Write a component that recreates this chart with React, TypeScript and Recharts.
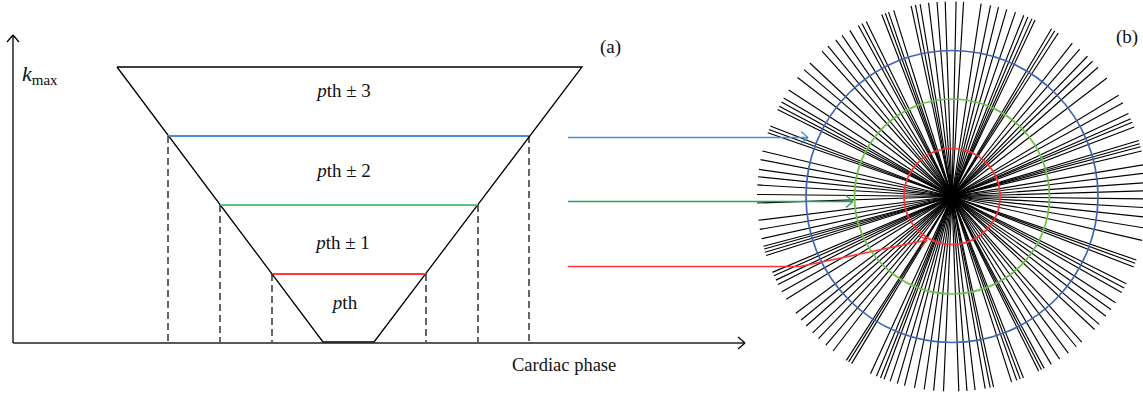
import React from 'react'
import { ComposedChart, Line, XAxis, YAxis, ReferenceLine, ReferenceDot } from 'recharts'

const WIDTH = 1143
const HEIGHT = 393
const FONT = '"Liberation Serif", "DejaVu Serif", serif'

// (a) funnel boundaries, bottom (pth) to top (kmax)
const levelY = [342, 274, 205, 136, 67]
const levelLeft = [323, 272, 220, 168, 117]
const levelRight = [374, 426, 478, 529, 582]
const levelColors = ['#000000', '#ff3b3b', '#62c17a', '#4e8ccf', '#000000']

const bandLabels = ['th', 'th \u00b1 1', 'th \u00b1 2', 'th \u00b1 3']
const bandLabelX = [345, 343, 344, 344]
const bandLabelY = [309, 249, 177, 97]

// axes of (a)
const axisOrigin = { x: 13, y: 343 }
const yAxisTop = 35
const xAxisEnd = 745

// (b) radial sampling
const starCenter = { x: 952, y: 196.5 }
const ringRadius = [48, 97.5, 146]
const ringColors = ['#ff3030', '#6dbf4b', '#4165b5']
const spokeLength = 195
// spoke directions, degrees counter-clockwise from east
const spokeAngles = [
  1.7, 4.1, 6.9, 9.4, 13.5, 14.8, 15.7, 16.7, 20.9, 22.4, 23.5, 25.2, 28.7, 31.3,
  37.4, 41.5, 43.9, 46.0, 49.1, 51.9, 57.0, 58.2, 59.3, 64.8, 65.8, 67.1, 68.4,
  71.0, 73.7, 76.2, 78.6, 81.4, 86.6, 88.8,
  92.0, 94.4, 96.9, 99.4, 100.8, 102.1, 107.4, 109.0, 110.0, 111.1, 116.1, 117.5,
  118.7, 121.6, 124.3, 126.6, 129.5, 131.8, 136.8, 139.4, 142.4, 146.9, 149.7,
  151.0, 152.4, 153.5, 158.8, 159.9, 160.9, 166.5, 169.1, 172.0, 174.2, 176.6, 179.4,
  181.9, 187.0, 189.7, 192.5, 194.8, 195.6, 196.6, 197.6, 202.9, 204.0, 205.4,
  206.8, 209.2, 211.8, 216.8, 219.3, 221.6, 224.4, 226.8, 229.7, 232.4, 237.2,
  238.0, 239.0, 245.3, 247.2, 248.5, 249.6, 251.5, 253.7, 255.9, 258.9, 261.8,
  264.6, 267.5,
  272.0, 274.4, 276.8, 279.8, 281.3, 282.3, 287.8, 289.4, 290.5, 291.5, 296.4,
  297.3, 298.2, 300.6, 303.5, 306.6, 309.6, 311.7, 317.0, 319.0, 322.1, 324.6,
  327.0, 330.5, 332.0, 333.4, 338.8, 340.0, 341.0, 347.0, 350.7, 353.9, 356.7, 359.3,
]

// arrows linking boundaries to rings (red, green, blue)
const arrowColors = ['#ff3535', '#1fa84f', '#4a8fd0']
const arrowPaths = [
  [{ x: 568, y: 266.5 }, { x: 800, y: 266.5 }, { x: 927, y: 240 }],
  [{ x: 568, y: 201.5 }, { x: 853, y: 201.5 }],
  [{ x: 568, y: 137.5 }, { x: 808, y: 137.5 }],
]

type Pt = { x: number; y: number }

const funnel = [
  { x: levelLeft[4], y: levelY[4] },
  { x: levelLeft[0], y: levelY[0] },
  { x: levelRight[0], y: levelY[0] },
  { x: levelRight[4], y: levelY[4] },
  { x: levelLeft[4], y: levelY[4] },
]

function seg(key: string, a: Pt, b: Pt, stroke: string, width = 1.3, dash?: string) {
  return (
    <ReferenceLine
      key={key}
      segment={[a, b]}
      stroke={stroke}
      strokeWidth={width}
      strokeDasharray={dash}
      ifOverflow="visible"
    />
  )
}

function arrowHead(key: string, from: Pt, tip: Pt, stroke: string, width = 1.3) {
  const dx = tip.x - from.x
  const dy = tip.y - from.y
  const len = Math.hypot(dx, dy)
  const ux = dx / len
  const uy = dy / len
  const back = 7
  const side = 6
  const w1 = { x: tip.x - back * ux - side * uy, y: tip.y - back * uy + side * ux }
  const w2 = { x: tip.x - back * ux + side * uy, y: tip.y - back * uy - side * ux }
  return [seg(key + '-1', w1, tip, stroke, width), seg(key + '-2', w2, tip, stroke, width)]
}

function note(key: string, x: number, y: number, render: (cx: number, cy: number) => React.ReactNode) {
  return (
    <ReferenceDot
      key={key}
      x={x}
      y={y}
      r={0}
      fill="none"
      stroke="none"
      ifOverflow="visible"
      label={(props: any) => {
        const vb = props.viewBox || {}
        return render(vb.x + (vb.width || 0) / 2, vb.y + (vb.height || 0) / 2)
      }}
    />
  )
}

export default function App() {
  const marks: React.ReactNode[] = []

  // axes with arrows
  marks.push(seg('yaxis', axisOrigin, { x: axisOrigin.x, y: yAxisTop }, '#000', 1.3))
  marks.push(...arrowHead('yarrow', axisOrigin, { x: axisOrigin.x, y: yAxisTop }, '#000'))
  marks.push(seg('xaxis', axisOrigin, { x: xAxisEnd, y: axisOrigin.y }, '#222', 1.7))
  marks.push(...arrowHead('xarrow', axisOrigin, { x: xAxisEnd, y: axisOrigin.y }, '#000'))

  // coloured boundaries and dashed drops
  for (let i = 1; i <= 3; i++) {
    marks.push(
      seg('lvl' + i, { x: levelLeft[i], y: levelY[i] }, { x: levelRight[i], y: levelY[i] }, levelColors[i], 1.8)
    )
    marks.push(seg('dl' + i, { x: levelLeft[i], y: levelY[i] }, { x: levelLeft[i], y: levelY[0] }, '#000', 1.2, '7 4'))
    marks.push(seg('dr' + i, { x: levelRight[i], y: levelY[i] }, { x: levelRight[i], y: levelY[0] }, '#000', 1.2, '7 4'))
  }

  // spokes
  spokeAngles.forEach((deg, i) => {
    const a = (deg * Math.PI) / 180
    marks.push(
      seg(
        'sp' + i,
        starCenter,
        { x: starCenter.x + spokeLength * Math.cos(a), y: starCenter.y - spokeLength * Math.sin(a) },
        '#000',
        1.15
      )
    )
  })

  // rings
  ringRadius.forEach((r, i) => {
    marks.push(
      <ReferenceDot
        key={'ring' + i}
        x={starCenter.x}
        y={starCenter.y}
        r={r}
        fill="none"
        stroke={ringColors[i]}
        strokeWidth={1.7}
        ifOverflow="visible"
      />
    )
  })

  // arrows
  arrowPaths.forEach((path, i) => {
    for (let j = 1; j < path.length; j++) {
      marks.push(seg('ar' + i + '-' + j, path[j - 1], path[j], arrowColors[i], 1.6))
    }
    marks.push(...arrowHead('ah' + i, path[path.length - 2], path[path.length - 1], arrowColors[i], 1.4))
  })

  // text
  bandLabels.forEach((txt, i) => {
    marks.push(
      note('bl' + i, bandLabelX[i], bandLabelY[i], (cx, cy) => (
        <text x={cx} y={cy} textAnchor="middle" fontFamily={FONT} fontSize={19} fill="#111">
          <tspan fontStyle="italic">p</tspan>
          {txt}
        </text>
      ))
    )
  })
  marks.push(
    note('kmax', 22, 81, (cx, cy) => (
      <text x={cx} y={cy} fontFamily={FONT} fill="#111">
        <tspan fontStyle="italic" fontSize={22}>k</tspan>
        <tspan fontSize={15} dy={4}>max</tspan>
      </text>
    ))
  )
  marks.push(
    note('xlab', 512, 371, (cx, cy) => (
      <text x={cx} y={cy} fontFamily={FONT} fontSize={18.5} fill="#111">
        Cardiac phase
      </text>
    ))
  )
  marks.push(
    note('pa', 600, 53, (cx, cy) => (
      <text x={cx} y={cy} fontFamily={FONT} fontSize={19} fill="#111">
        (a)
      </text>
    ))
  )
  marks.push(
    note('pb', 1116, 43, (cx, cy) => (
      <text x={cx} y={cy} fontFamily={FONT} fontSize={19} fill="#111">
        (b)
      </text>
    ))
  )

  return (
    <div style={{ position: 'absolute', left: 0, top: 0, background: '#fff' }}>
      <ComposedChart width={WIDTH} height={HEIGHT} data={funnel} margin={{ top: 0, right: 0, bottom: 0, left: 0 }}>
        <XAxis type="number" dataKey="x" domain={[0, WIDTH]} hide allowDataOverflow />
        <YAxis type="number" dataKey="y" domain={[0, HEIGHT]} reversed hide allowDataOverflow />
        <Line
          type="linear"
          dataKey="y"
          stroke="#000"
          strokeWidth={1.3}
          dot={false}
          activeDot={false}
          isAnimationActive={false}
        />
        {marks}
      </ComposedChart>
    </div>
  )
}
